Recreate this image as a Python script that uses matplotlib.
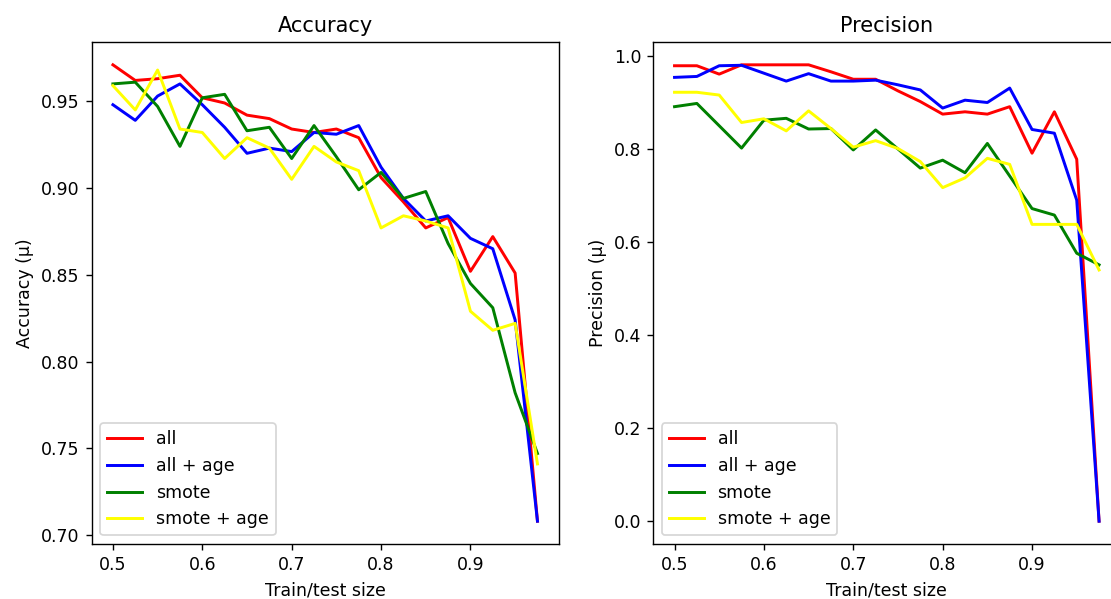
import matplotlib
matplotlib.use("Agg")
import matplotlib.pyplot as plt

x = [0.5, 0.525, 0.55, 0.575, 0.6, 0.625, 0.65, 0.675, 0.7, 0.725,
     0.75, 0.775, 0.8, 0.825, 0.85, 0.875, 0.9, 0.925, 0.95, 0.975]

labels = ["all", "all + age", "smote", "smote + age"]
colors = ["red", "blue", "green", "yellow"]

acc_all = [0.971, 0.962, 0.963, 0.965, 0.952, 0.949, 0.942, 0.940, 0.934, 0.932,
           0.934, 0.929, 0.906, 0.892, 0.877, 0.883, 0.852, 0.872, 0.851, 0.708]
acc_age = [0.948, 0.939, 0.953, 0.960, 0.948, 0.935, 0.920, 0.923, 0.921, 0.932,
           0.931, 0.936, 0.912, 0.894, 0.881, 0.884, 0.871, 0.865, 0.824, 0.708]
acc_smote = [0.960, 0.961, 0.947, 0.924, 0.952, 0.954, 0.933, 0.935, 0.917, 0.936,
             0.918, 0.899, 0.909, 0.894, 0.898, 0.868, 0.845, 0.831, 0.782, 0.747]
acc_smote_age = [0.959, 0.945, 0.968, 0.934, 0.932, 0.917, 0.929, 0.923, 0.905, 0.924,
                 0.915, 0.910, 0.877, 0.884, 0.881, 0.877, 0.829, 0.818, 0.822, 0.741]

prec_all = [0.979, 0.979, 0.961, 0.981, 0.981, 0.981, 0.981, 0.966, 0.950, 0.950,
            0.925, 0.902, 0.875, 0.880, 0.875, 0.891, 0.791, 0.880, 0.778, 0.0]
prec_age = [0.954, 0.956, 0.979, 0.980, 0.963, 0.946, 0.962, 0.946, 0.946, 0.948,
            0.938, 0.927, 0.888, 0.905, 0.900, 0.931, 0.842, 0.834, 0.690, 0.0]
prec_smote = [0.891, 0.898, 0.850, 0.802, 0.862, 0.866, 0.843, 0.844, 0.798, 0.841,
              0.800, 0.759, 0.776, 0.749, 0.812, 0.742, 0.672, 0.658, 0.576, 0.551]
prec_smote_age = [0.922, 0.922, 0.916, 0.857, 0.865, 0.839, 0.882, 0.844, 0.804, 0.818,
                  0.801, 0.773, 0.717, 0.738, 0.780, 0.767, 0.638, 0.638, 0.638, 0.540]

acc_series = [acc_all, acc_age, acc_smote, acc_smote_age]
prec_series = [prec_all, prec_age, prec_smote, prec_smote_age]

dpi = 125
fig = plt.figure(figsize=(1111 / dpi, 599 / dpi), dpi=dpi)

W, H = 1111, 599
ax1 = fig.add_axes([91.7 / W, 55 / H, 467 / W, 502 / H])
ax2 = fig.add_axes([653.3 / W, 55 / H, 467 / W, 502 / H])

for ax, series, title, ylab in [(ax1, acc_series, "Accuracy", "Accuracy (μ)"),
                                (ax2, prec_series, "Precision", "Precision (μ)")]:
    for s, c, l in zip(series, colors, labels):
        ax.plot(x, s, color=c, label=l, linewidth=1.7)
    ax.set_title(title, fontsize=12)
    ax.set_ylabel(ylab)
    ax.set_xlabel("Train/test size")
    ax.legend(loc="lower left")

ax1.set_yticks([0.70, 0.75, 0.80, 0.85, 0.90, 0.95])
ax2.set_yticks([0.0, 0.2, 0.4, 0.6, 0.8, 1.0])

fig.savefig("out.png", dpi=dpi)
